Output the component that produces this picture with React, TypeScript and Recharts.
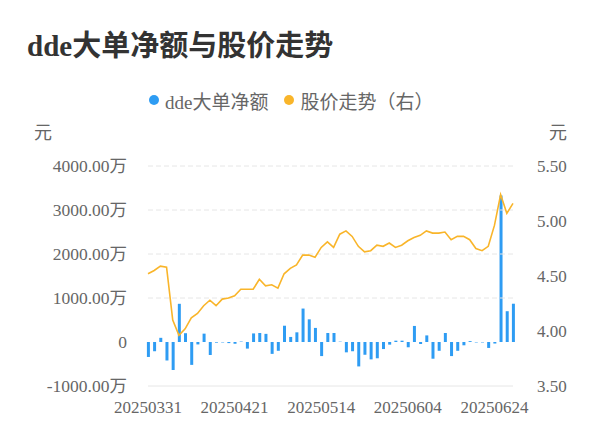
import { ComposedChart, Bar, Line, XAxis, YAxis, ReferenceLine } from 'recharts';

// 交易日（共 60 个）
const dates = [
  '20250331', '20250401', '20250402', '20250403', '20250407', '20250408', '20250409', '20250410',
  '20250411', '20250414', '20250415', '20250416', '20250417', '20250418', '20250421', '20250422',
  '20250423', '20250424', '20250425', '20250428', '20250429', '20250430', '20250506', '20250507',
  '20250508', '20250509', '20250512', '20250513', '20250514', '20250515', '20250516', '20250519',
  '20250520', '20250521', '20250522', '20250523', '20250526', '20250527', '20250528', '20250529',
  '20250530', '20250603', '20250604', '20250605', '20250606', '20250609', '20250610', '20250611',
  '20250612', '20250613', '20250616', '20250617', '20250618', '20250619', '20250620', '20250623',
  '20250624', '20250625', '20250626', '20250627',
];

// dde大单净额（万元）
const ddeNet = [
  -340, -210, 95, -420, -636, 868, 200, -520, -55, 190,
  -295, -15, -10, -25, -40, 10, -150, 195, 205, 185,
  -270, -200, 370, 115, 220, 760, 515, 320, -320, 205,
  205, 8, -235, -210, -555, -290, -395, -370, -160, -60,
  30, 30, -120, 365, -45, 150, -380, -200, 205, -320,
  -200, -75, 20, -10, -10, -135, -35, 3330, 700, 870,
];

// 股价（元）
const price = [
  4.52, 4.55, 4.59, 4.58, 4.10, 3.96, 4.02, 4.12, 4.16, 4.23,
  4.28, 4.23, 4.29, 4.30, 4.32, 4.38, 4.38, 4.38, 4.47, 4.41,
  4.42, 4.39, 4.52, 4.57, 4.60, 4.69, 4.69, 4.67, 4.76, 4.81,
  4.76, 4.88, 4.91, 4.86, 4.77, 4.72, 4.73, 4.78, 4.77, 4.80,
  4.76, 4.78, 4.82, 4.85, 4.87, 4.91, 4.89, 4.89, 4.90, 4.83,
  4.86, 4.86, 4.83, 4.75, 4.73, 4.77, 4.96, 5.24, 5.07, 5.16,
];

const xTicks = [0, 14, 28, 42, 56];
const leftTicks = [-1000, 0, 1000, 2000, 3000, 4000];
const rightTicks = [3.5, 4, 4.5, 5, 5.5];

const BLUE = '#2e9cf3';
const ORANGE = '#f9b52a';
const FONT = "'Liberation Serif', 'Noto Sans CJK SC', serif";

const data = dates.map((d, i) => ({ idx: i, date: d, net: ddeNet[i], price: price[i] }));

export default function App() {
  return (
    <div style={{ position: 'absolute', left: 0, top: 0, width: 600, height: 446, background: '#fff', fontFamily: FONT }}>
      <div style={{ position: 'absolute', left: 27, top: 31, fontSize: 29, lineHeight: '31px', fontWeight: 'bold', color: '#333' }}>
        dde大单净额与股价走势
      </div>

      {/* 图例 */}
      <div style={{ position: 'absolute', left: 149, top: 89, height: 22, display: 'flex', alignItems: 'center', fontSize: 19, color: '#666' }}>
        <span style={{ width: 10, height: 10, borderRadius: 5, background: BLUE, marginRight: 6 }} />
        <span>dde大单净额</span>
        <span style={{ width: 10, height: 10, borderRadius: 5, background: ORANGE, marginLeft: 16, marginRight: 6 }} />
        <span>股价走势（右）</span>
      </div>

      <div style={{ position: 'absolute', left: 34, top: 122, fontSize: 18, lineHeight: '22px', color: '#666' }}>元</div>
      <div style={{ position: 'absolute', left: 549, top: 122, fontSize: 18, lineHeight: '22px', color: '#666' }}>元</div>

      <ComposedChart
        width={600}
        height={446}
        data={data}
        margin={{ top: 166, right: 0, bottom: 30, left: 0 }}
        style={{ position: 'absolute', left: 0, top: 0 }}
      >
        <XAxis
          dataKey="idx"
          type="number"
          domain={[0, 59]}
          ticks={xTicks}
          interval={0}
          tickFormatter={(i) => dates[i]}
          axisLine={false}
          tickLine={false}
          height={30}
          tickMargin={9}
          tick={{ fontSize: 17, fill: '#666', fontFamily: FONT }}
        />
        <YAxis
          yAxisId="left"
          orientation="left"
          width={148}
          domain={[-1000, 4000]}
          ticks={leftTicks}
          interval={0}
          tickFormatter={(v) => (v === 0 ? '0' : `${Number(v).toFixed(2)}万`)}
          axisLine={false}
          tickLine={false}
          tickMargin={15}
          tick={{ fontSize: 17.5, fill: '#666', fontFamily: FONT }}
        />
        <YAxis
          yAxisId="right"
          orientation="right"
          width={87}
          domain={[3.5, 5.5]}
          ticks={rightTicks}
          interval={0}
          tickFormatter={(v) => Number(v).toFixed(2)}
          axisLine={false}
          tickLine={false}
          tickMargin={18}
          tick={{ fontSize: 17, fill: '#666', fontFamily: FONT }}
        />
        {[1000, 2000, 3000, 4000].map((v) => (
          <ReferenceLine key={v} yAxisId="left" y={v} stroke="#e6e6e6" strokeDasharray="5 3" />
        ))}
        <ReferenceLine yAxisId="left" y={-1000} stroke="#e6e6e6" />
        <Bar yAxisId="left" dataKey="net" fill={BLUE} barSize={3} isAnimationActive={false} />
        <Line
          yAxisId="right"
          dataKey="price"
          type="linear"
          stroke={ORANGE}
          strokeWidth={1.6}
          dot={false}
          isAnimationActive={false}
        />
      </ComposedChart>
    </div>
  );
}
